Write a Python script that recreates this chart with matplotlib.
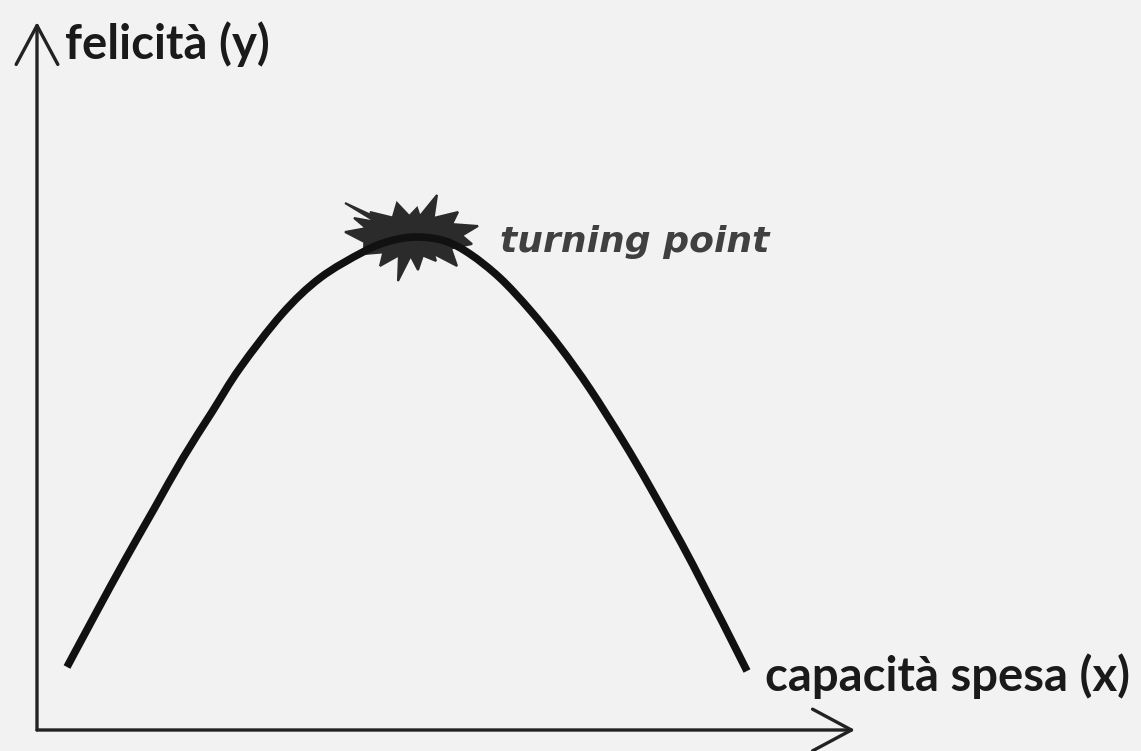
import numpy as np
import matplotlib
matplotlib.use("Agg")
import matplotlib.pyplot as plt
from matplotlib.patches import Polygon, PathPatch
from matplotlib.path import Path

plt.rcParams['font.family'] = ['Lato', 'DejaVu Sans']

# curve (units: pixels from the axis origin)
spesa = [30, 59, 88, 117, 146, 175, 203, 245, 283, 326, 353, 380,
         408, 433, 463, 493, 523, 553, 586, 613, 656, 710]
felicita = [63, 117, 170, 221, 272, 318, 362, 416, 452, 478, 489, 493,
            489, 476, 452, 420, 383, 341, 289, 243, 165, 59]

label_y = 'felicità (y)'
label_x = 'capacità spesa (x)'
label_peak = 'turning point'

bg = '#f2f2f2'
ink = '#111111'


def smooth_path(xs, ys):
    # Catmull-Rom through the read points, handed to matplotlib as Bezier segments
    p = np.column_stack([xs, ys]).astype(float)
    p = np.vstack([p[0], p, p[-1]])
    verts = [p[1]]
    codes = [Path.MOVETO]
    for k in range(1, len(p) - 2):
        c1 = p[k] + (p[k + 1] - p[k - 1]) / 6
        c2 = p[k + 1] - (p[k + 2] - p[k]) / 6
        verts += [c1, c2, p[k + 1]]
        codes += [Path.CURVE4] * 3
    return Path(verts, codes)


fig = plt.figure(figsize=(11.41, 7.51), dpi=100, facecolor=bg)
ax = fig.add_axes([0, 0, 1, 1])
ax.set_facecolor(bg)
ax.set_xlim(-37, 1104)
ax.set_ylim(-21, 730)
ax.axis('off')

# axes with open arrow heads
arrow = dict(arrowstyle='->,head_length=2.8,head_width=1.5', lw=2.4,
             color='#222222', shrinkA=0, shrinkB=0, mutation_scale=10)
ax.annotate('', xy=(0, 708), xytext=(0, 0), arrowprops=arrow)
ax.annotate('', xy=(818, 0), xytext=(0, 0), arrowprops=arrow)

# the curve
ax.add_patch(PathPatch(smooth_path(spesa, felicita), facecolor='none',
                       edgecolor=ink, lw=5.5, capstyle='butt', zorder=3))

# starburst at the top of the curve
i = int(np.argmax(felicita))
cx, cy = spesa[i] - 5, felicita[i] + 1
tips = [(-67, 33), (-42, 24), (-15, 33), (5, 28), (25, 41), (46, 24),
        (66, 10), (60, -8), (45, -30), (24, -25), (6, -34), (-14, -45),
        (-32, -30), (-48, -18), (-67, 4), (-58, 18)]
ang = [np.arctan2(dy / 20, dx / 50) for dx, dy in tips]
order = np.argsort(ang)
pts = []
n = len(tips)
for k in range(n):
    a = ang[order[k]]
    b = ang[order[(k + 1) % n]]
    if b < a:
        b += 2 * np.pi
    m = (a + b) / 2
    dx, dy = tips[order[k]]
    pts.append((cx + dx, cy + dy))
    pts.append((cx + 50 * np.cos(m), cy + 20 * np.sin(m)))
ax.add_patch(Polygon(pts, closed=True, facecolor='#2b2b2b',
                     edgecolor='#2b2b2b', lw=1.5, zorder=2))

# labels
ax.text(28, 686, label_y, fontsize=34, fontweight='bold', color='#1a1a1a',
        ha='left', va='center')
ax.text(728, 54, label_x, fontsize=34, fontweight='bold', color='#1a1a1a',
        ha='left', va='center')
ax.text(463, 488, label_peak, fontsize=26, fontweight='bold',
        fontstyle='italic', family='DejaVu Sans', color='#404040',
        ha='left', va='center')

fig.savefig('out.png', dpi=100, facecolor=bg)
